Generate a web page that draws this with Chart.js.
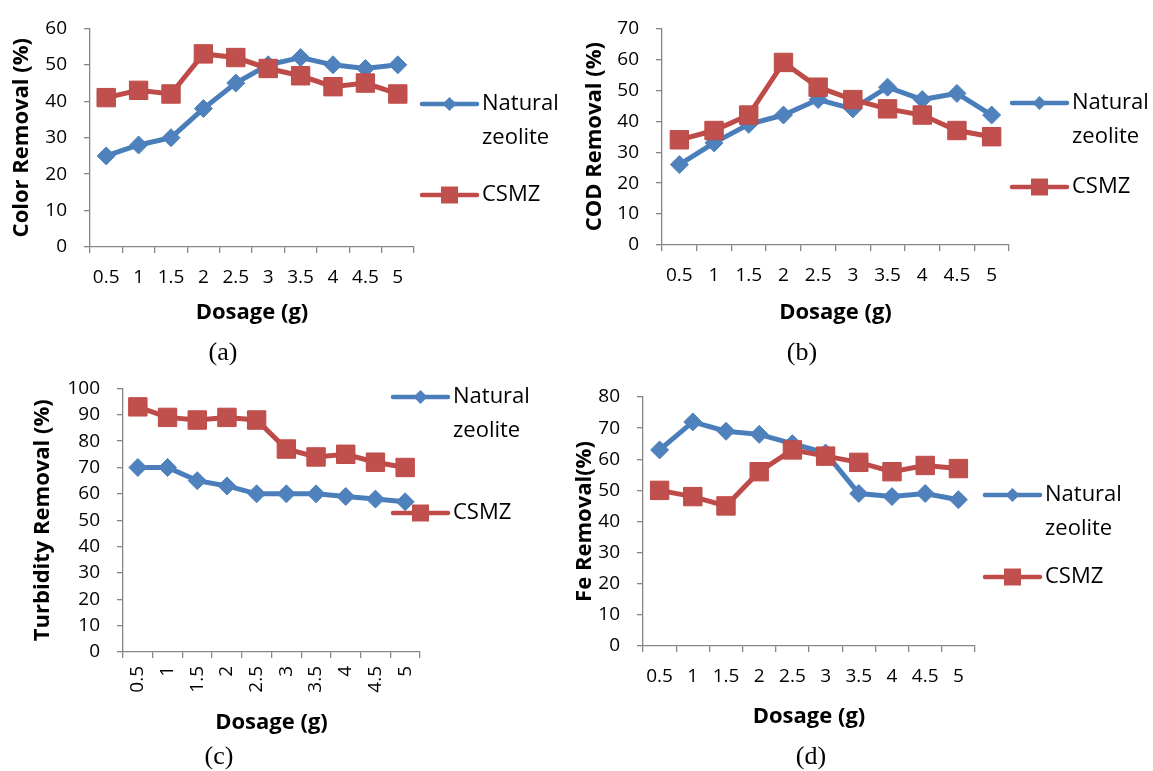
<!DOCTYPE html>
<html>
<head>
<meta charset="utf-8">
<script src="https://cdn.jsdelivr.net/npm/chart.js@4.4.0/dist/chart.umd.min.js"></script>
<style>
body { margin: 0; background: #fff; width: 1153px; height: 771px; position: relative; overflow: hidden; }
canvas { position: absolute; }
.cap { position: absolute; font-family: "Liberation Serif", "Times New Roman", serif; font-size: 26px; color: #000; transform: translate(-50%, -50%); }
</style>
</head>
<body>
<canvas id="colorChart" width="580" height="340" style="left:0;top:0"></canvas>
<canvas id="codChart" width="573" height="340" style="left:580px;top:0"></canvas>
<canvas id="turbChart" width="560" height="411" style="left:0;top:360px"></canvas>
<canvas id="feChart" width="593" height="411" style="left:560px;top:360px"></canvas>
<div class="cap" style="left:223px;top:352px">(a)</div>
<div class="cap" style="left:802px;top:352px">(b)</div>
<div class="cap" style="left:219px;top:756px">(c)</div>
<div class="cap" style="left:811px;top:756px">(d)</div>
<script>
const dosage = ['0.5', '1', '1.5', '2', '2.5', '3', '3.5', '4', '4.5', '5'];
const seriesNames = ['Natural zeolite', 'CSMZ'];

const colorNatural = [25, 28, 30, 38, 45, 50, 52, 50, 49, 50];
const colorCSMZ = [41, 43, 42, 53, 52, 49, 47, 44, 45, 42];
const codNatural = [26, 33, 39, 42, 47, 44, 51, 47, 49, 42];
const codCSMZ = [34, 37, 42, 59, 51, 47, 44, 42, 37, 35];
const turbNatural = [70, 70, 65, 63, 60, 60, 60, 59, 58, 57];
const turbCSMZ = [93, 89, 88, 89, 88, 77, 74, 75, 72, 70];
const feNatural = [63, 72, 69, 68, 65, 62, 49, 48, 49, 47];
const feCSMZ = [50, 48, 45, 56, 63, 61, 59, 56, 58, 57];

const blueLine = '#4A7EBB', blueFill = '#4F81BD';
const redLine = '#BE4B48', redFill = '#C0504D';
const axisColor = '#868686';
const tickFont = { family: 'Open Sans', size: 19 };
const titleFont = { family: 'Open Sans', size: 22, weight: 'bold' };

// legend at the right, "Natural zeolite" wraps on two lines
const sideLegend = {
  id: 'sideLegend',
  afterDraw(chart, args, opts) {
    const ctx = chart.ctx;
    ctx.save();
    chart.data.datasets.forEach((ds, i) => {
      const y = opts.rows[i];
      const x = opts.x;
      ctx.strokeStyle = ds.borderColor;
      ctx.lineWidth = 4.5;
      ctx.lineCap = 'round';
      ctx.beginPath();
      ctx.moveTo(x, y);
      ctx.lineTo(x + 55, y);
      ctx.stroke();
      const cx = x + 27.5;
      ctx.fillStyle = ds.backgroundColor;
      ctx.beginPath();
      if (ds.pointStyle === 'rectRot') {
        ctx.moveTo(cx - 7, y); ctx.lineTo(cx, y - 7); ctx.lineTo(cx + 7, y); ctx.lineTo(cx, y + 7);
      } else {
        ctx.rect(cx - 8.5, y - 8.5, 17, 17);
      }
      ctx.closePath();
      ctx.fill();
      ctx.fillStyle = '#000';
      ctx.font = '22px "Open Sans"';
      ctx.textBaseline = 'middle';
      ds.label.split(' ').forEach((w, k) => {
        ctx.fillText(w, x + 60, y + k * 34);
      });
    });
    ctx.restore();
  }
};

function makeChart(id, natural, csmz, yMax, yTitle, box) {
  const config = {
    type: 'line',
    data: {
      labels: dosage,
      datasets: [{
        label: seriesNames[0],
        data: natural,
        borderColor: blueLine,
        backgroundColor: blueFill,
        borderWidth: 5,
        pointStyle: 'rectRot',
        pointRadius: 9,
        pointBorderWidth: 1,
        pointBorderColor: blueFill,
        order: 2
      }, {
        label: seriesNames[1],
        data: csmz,
        borderColor: redLine,
        backgroundColor: redFill,
        borderWidth: 5,
        pointStyle: 'rect',
        pointRadius: 13,
        pointBorderWidth: 1,
        pointBorderColor: redLine,
        order: 1
      }]
    },
    options: {
      responsive: false,
      animation: false,
      events: [],
      layout: { padding: { left: 0, top: box.top, right: box.right, bottom: 0 } },
      plugins: {
        legend: { display: false },
        tooltip: { enabled: false },
        sideLegend: box.legend
      },
      scales: {
        x: {
          offset: true,
          grid: { offset: true, drawOnChartArea: false, tickLength: 6, color: axisColor, lineWidth: 1.3 },
          border: { color: axisColor, width: 1.3 },
          ticks: { autoSkip: false, minRotation: box.rot, maxRotation: box.rot, padding: box.xPad, color: '#000', font: tickFont },
          title: { display: true, text: 'Dosage (g)', color: '#000', font: titleFont, padding: { top: 0, bottom: box.xTitlePad } },
          afterFit: s => { s.height = box.xHeight; }
        },
        y: {
          min: 0,
          max: yMax,
          grid: { drawOnChartArea: false, tickLength: 6, color: axisColor, lineWidth: 1.3 },
          border: { color: axisColor, width: 1.3 },
          ticks: { stepSize: 10, padding: 17, color: '#000', font: tickFont },
          title: { display: true, text: yTitle, color: '#000', font: titleFont, padding: { top: box.yTitlePad, bottom: 0 } },
          afterFit: s => { s.width = box.yWidth; }
        }
      }
    },
    plugins: [sideLegend]
  };
  return new Chart(document.getElementById(id), config);
}

makeChart('colorChart', colorNatural, colorCSMZ, 60, 'Color Removal (%)', {
  top: 21, right: 166, yWidth: 90, xHeight: 93, xPad: 13, rot: 0,
  xTitlePad: 13.8, yTitlePad: 8.8, legend: { x: 422, rows: [104, 195] }
});
makeChart('codChart', codNatural, codCSMZ, 70, 'COD Removal (%)', {
  top: 23, right: 144, yWidth: 82, xHeight: 95, xPad: 13, rot: 0,
  xTitlePad: 13.8, yTitlePad: 2, legend: { x: 432, rows: [103, 187] }
});
makeChart('turbChart', turbNatural, turbCSMZ, 100, 'Turbidity Removal (%)', {
  top: 19, right: 140, yWidth: 123, xHeight: 119, xPad: 8, rot: 90,
  xTitlePad: 34.8, yTitlePad: 29.8, legend: { x: 393, rows: [37, 153] }
});
makeChart('feChart', feNatural, feCSMZ, 80, 'Fe Removal(%)', {
  top: 37, right: 178, yWidth: 83, xHeight: 125, xPad: 13, rot: 0,
  xTitlePad: 40.8, yTitlePad: 11.8, legend: { x: 425, rows: [135, 217] }
});
</script>
</body>
</html>
